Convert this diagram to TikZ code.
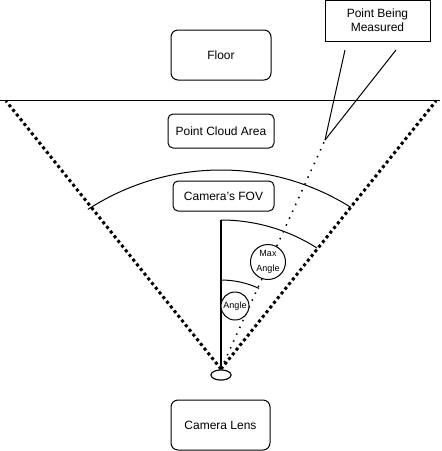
\documentclass[tikz,border=0pt]{standalone}
\usepackage{fontspec}
\setmainfont{Liberation Sans}
\usetikzlibrary{shapes.geometric}
\begin{document}
\begin{tikzpicture}[x=1pt,y=-1pt,line width=1pt,
  box/.style={draw, rounded corners=7pt, inner sep=0pt, align=center, font=\fontsize{12}{14}\selectfont},
  sqbox/.style={draw, inner sep=0pt, align=center, font=\fontsize{12}{14}\selectfont},
  lbl/.style={draw, circle, fill=white, inner sep=0pt, align=center, font=\fontsize{9}{15}\selectfont},
  fovedge/.style={line width=3pt, dash pattern=on 3pt off 3pt},
  sight/.style={line width=1.5pt, dash pattern=on 1.5pt off 6pt},
  plain/.style={line width=1pt}]
\useasboundingbox (0,0) rectangle (442,451);
% boxes
\node[box, minimum width=100pt, minimum height=50pt] (floor) at (221,55) {Floor};
\node[box, rounded corners=5pt, minimum width=106pt, minimum height=34pt] (pca) at (221,131) {Point Cloud Area};
\node[box, rounded corners=5pt, minimum width=101pt, minimum height=30pt] (fov) at (223.5,196) {Camera's FOV};
\node[box, minimum width=99pt, minimum height=50pt] (lens) at (220.5,425) {Camera Lens};
\node[sqbox, minimum width=105pt, minimum height=41pt] (pbm) at (377.5,20.5) {Point Being\\Measured};
% floor line
\coordinate (fl) at (0,100);
\coordinate (fr) at (440,100);
\draw[plain] (fl) -- (fr);
% camera
\node[ellipse, draw, minimum width=20pt, minimum height=10pt, inner sep=0pt] (cam) at (221,375) {};
\coordinate (apex) at (221,369);
\coordinate (el) at (6,101);
\coordinate (er) at (436,101);
\coordinate (meas) at (325,140);
\coordinate (vtop) at (221,220);
\coordinate (p1) at (345,50);
\coordinate (p2) at (396,50);
% FOV edges
\draw[fovedge] (apex) -- (el);
\draw[fovedge] (apex) -- (er);
% sight line
\draw[sight] (apex) -- (meas);
% pointer lines
\draw[plain] (p1) -- (meas);
\draw[plain] (p2) -- (meas);
% arcs
\draw[plain] (221,414.5) ++(-123:244.5) arc[start angle=-123, end angle=-58, radius=244.5];
\draw[plain] (vtop) arc[start angle=-90, end angle=-57.5, radius=178.6];
\draw[plain] (221,280) arc[start angle=-90, end angle=-65, radius=90];
% vertical
\draw[line width=2pt] (vtop) -- (apex);
% labels
\node[lbl, minimum size=35pt] (maxa) at (268,262) {Max\\Angle};
\node[lbl, minimum size=28pt] (ang) at (235,306) {Angle};
\node[ellipse, draw, fill=white, minimum width=20pt, minimum height=10pt, inner sep=0pt] at (cam) {};
\end{tikzpicture}
\end{document}
